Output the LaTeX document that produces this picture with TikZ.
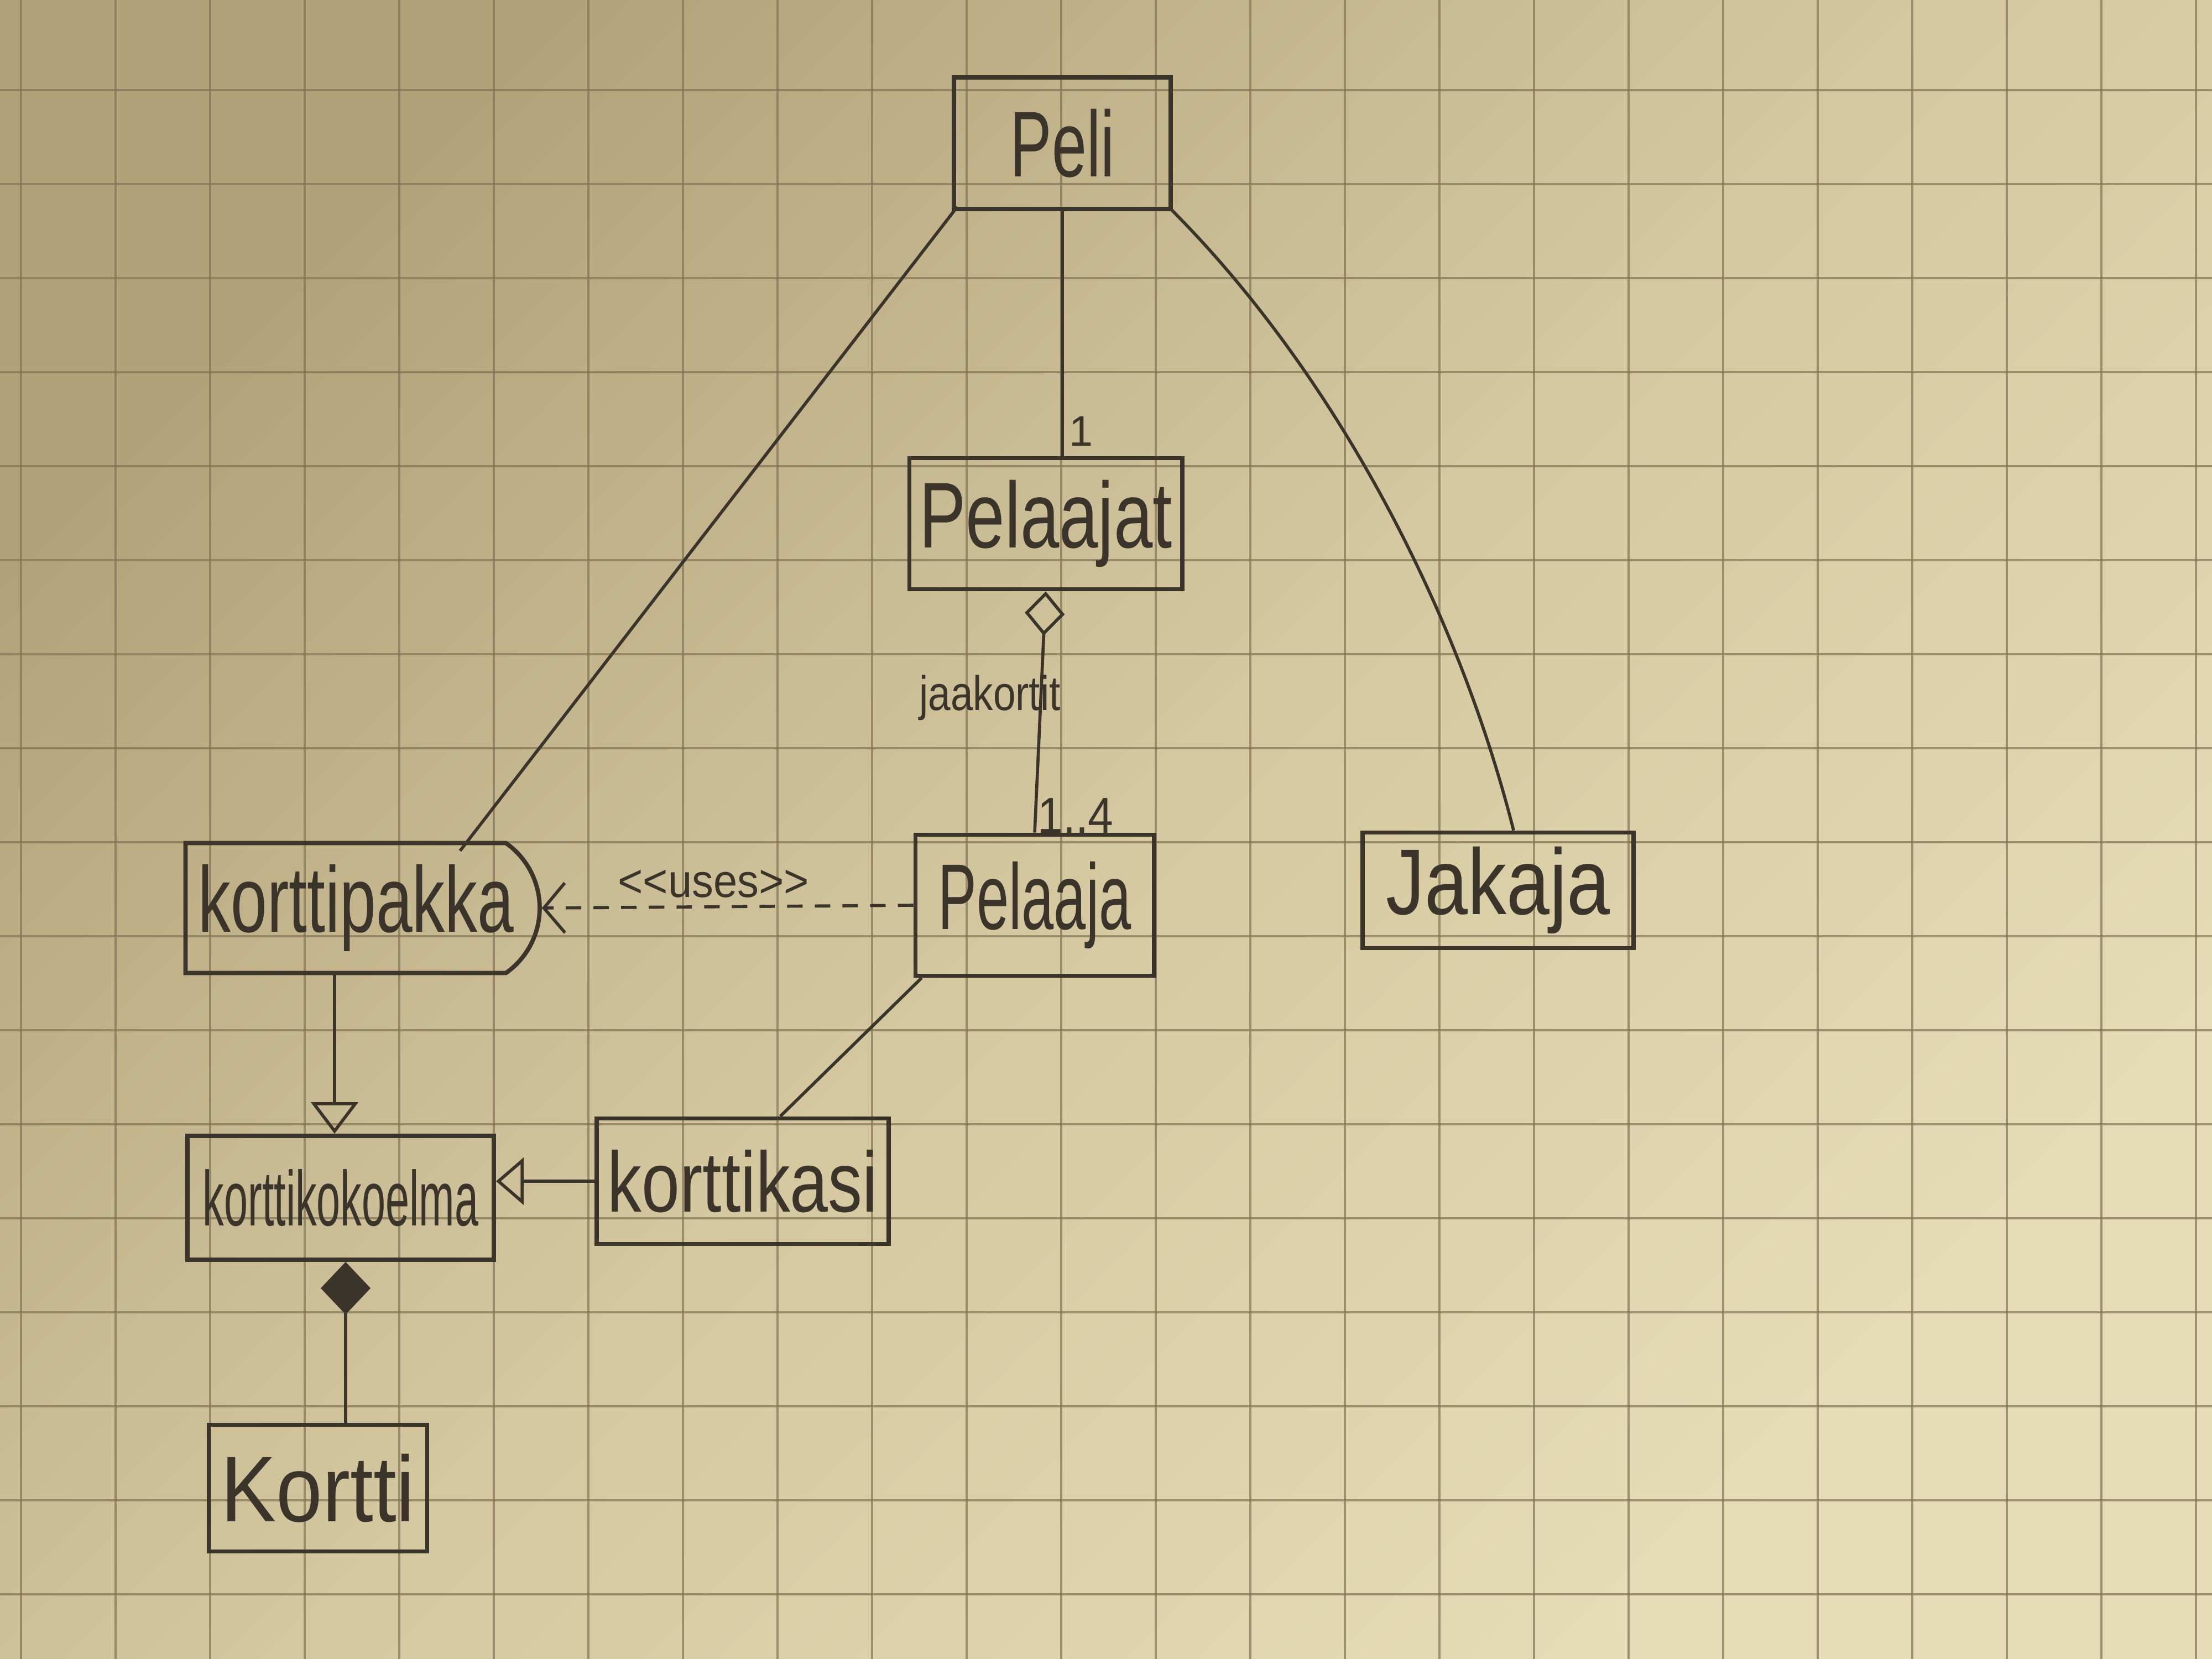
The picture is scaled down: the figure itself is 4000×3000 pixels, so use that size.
\documentclass[tikz,border=0pt]{standalone}
\usepackage{fontspec}
\setmainfont{Liberation Sans}
\usetikzlibrary{arrows.meta,calc,shapes.misc}
\definecolor{paperdark}{RGB}{178,162,122}
\definecolor{papermid}{RGB}{213,200,160}
\definecolor{paperlight}{RGB}{230,220,184}
\definecolor{gridc}{RGB}{130,114,84}
\definecolor{ink}{RGB}{58,52,42}
\tikzset{
  cls/.style={draw=ink, line width=2.2pt, inner sep=0pt, text=ink},
  conn/.style={draw=ink, line width=1.6pt},
  lbl/.style={text=ink, inner sep=0pt},
  gridln/.style={draw=gridc, line width=0.9pt, opacity=0.7},
  usesline/.style={conn, dash pattern=on 0.28cm off 0.22cm},
}
\newcommand{\hw}[3]{\scalebox{#1}[1]{\fontsize{#2}{#2}\selectfont #3}}
\begin{document}
\begin{tikzpicture}[x=0.01cm,y=-0.01cm]
\useasboundingbox (0,0) rectangle (4000,3000);
\begin{scope}[y=0.01cm]
\shade[top color=paperdark, bottom color=paperlight, middle color=papermid, shading angle=45] (0,-3000) rectangle (4000,0);
\end{scope}
\foreach \i in {0,...,23} \draw[gridln] ({38+171*\i},0) -- ({38+171*\i},3000);
\foreach \j in {0,...,17} \draw[gridln] (0,{-7+170*\j}) -- (4000,{-7+170*\j});

% classes
\node[cls, minimum width=3.92cm, minimum height=2.38cm] (peli) at (1921,259) {\hw{0.67}{48pt}{Peli}};
\node[cls, minimum width=4.93cm, minimum height=2.37cm] (pelaajat) at (1891,947) {\hw{0.75}{48pt}{Pelaajat}};
\node[cls, minimum width=4.31cm, minimum height=2.55cm] (pelaaja) at (1871,1637) {\hw{0.62}{48pt}{Pelaaja}};
\node[cls, minimum width=4.90cm, minimum height=2.09cm] (jakaja) at (2709,1610) {\hw{0.83}{48pt}{Jakaja}};
\node[cls, shape=rounded rectangle, rounded rectangle west arc=none, rounded rectangle arc length=110,
      minimum width=6.40cm, minimum height=2.35cm] (korttipakka) at (644,1642) {\hw{0.70}{48pt}{korttipakka}};
\node[cls, minimum width=5.54cm, minimum height=2.24cm] (kokoelma) at (616,2166) {\hw{0.55}{40pt}{korttikokoelma}};
\node[cls, minimum width=5.28cm, minimum height=2.27cm] (kasi) at (1343,2136) {\hw{0.80}{44pt}{korttikasi}};
\node[cls, minimum width=3.95cm, minimum height=2.29cm] (kortti) at (575,2691) {\hw{0.89}{48pt}{Kortti}};

% connectors
\draw[conn] (peli.south) -- (peli.south |- pelaajat.north);
\node[lbl] (m1) at (1955,780) {\hw{1}{22pt}{1}};
\draw[conn] ($(peli.south west)+(10,-8)$) -- ($(korttipakka.north east)+(-84,18)$);
\coordinate (jtop) at ($(jakaja.north)+(28,0)$);
\draw[conn] ($(peli.south east)+(-6,-6)$) .. controls (2400,660) and (2630,1080) .. (jtop);
\draw[conn, {Diamond[open, length=0.8cm, width=0.72cm]}-] (pelaajat.south) -- (pelaaja.north);
\node[lbl] (jaak) at (1790,1262) {\hw{0.83}{25pt}{jaakortit}};
\node[lbl] (m14) at (1945,1475) {\hw{0.9}{26pt}{1..4}};
\draw[usesline, -{Straight Barb[length=0.38cm, width=0.9cm]}] (pelaaja.west) -- (korttipakka.east);
\node[lbl] (uses) at (1290,1598) {\hw{0.92}{24pt}{{<}{<}uses{>}{>}}};
\draw[conn] ($(pelaaja.south west)+(15,0)$) -- ($(kasi.north)+(68,0)$);
\draw[conn, -{Triangle[open, length=0.57cm, width=0.85cm]}] ($(korttipakka.south)+(-39,0)$) -- ($(kokoelma.north)+(-11,0)$);
\draw[conn, -{Triangle[open, length=0.5cm, width=0.85cm]}] (kasi.west) -- (kasi.west -| kokoelma.east);
\coordinate (kk) at ($(kokoelma.south)+(9,0)$);
\draw[conn, {Diamond[length=0.95cm, width=0.9cm]}-] (kk) -- (kk |- kortti.north);
\end{tikzpicture}
\end{document}
